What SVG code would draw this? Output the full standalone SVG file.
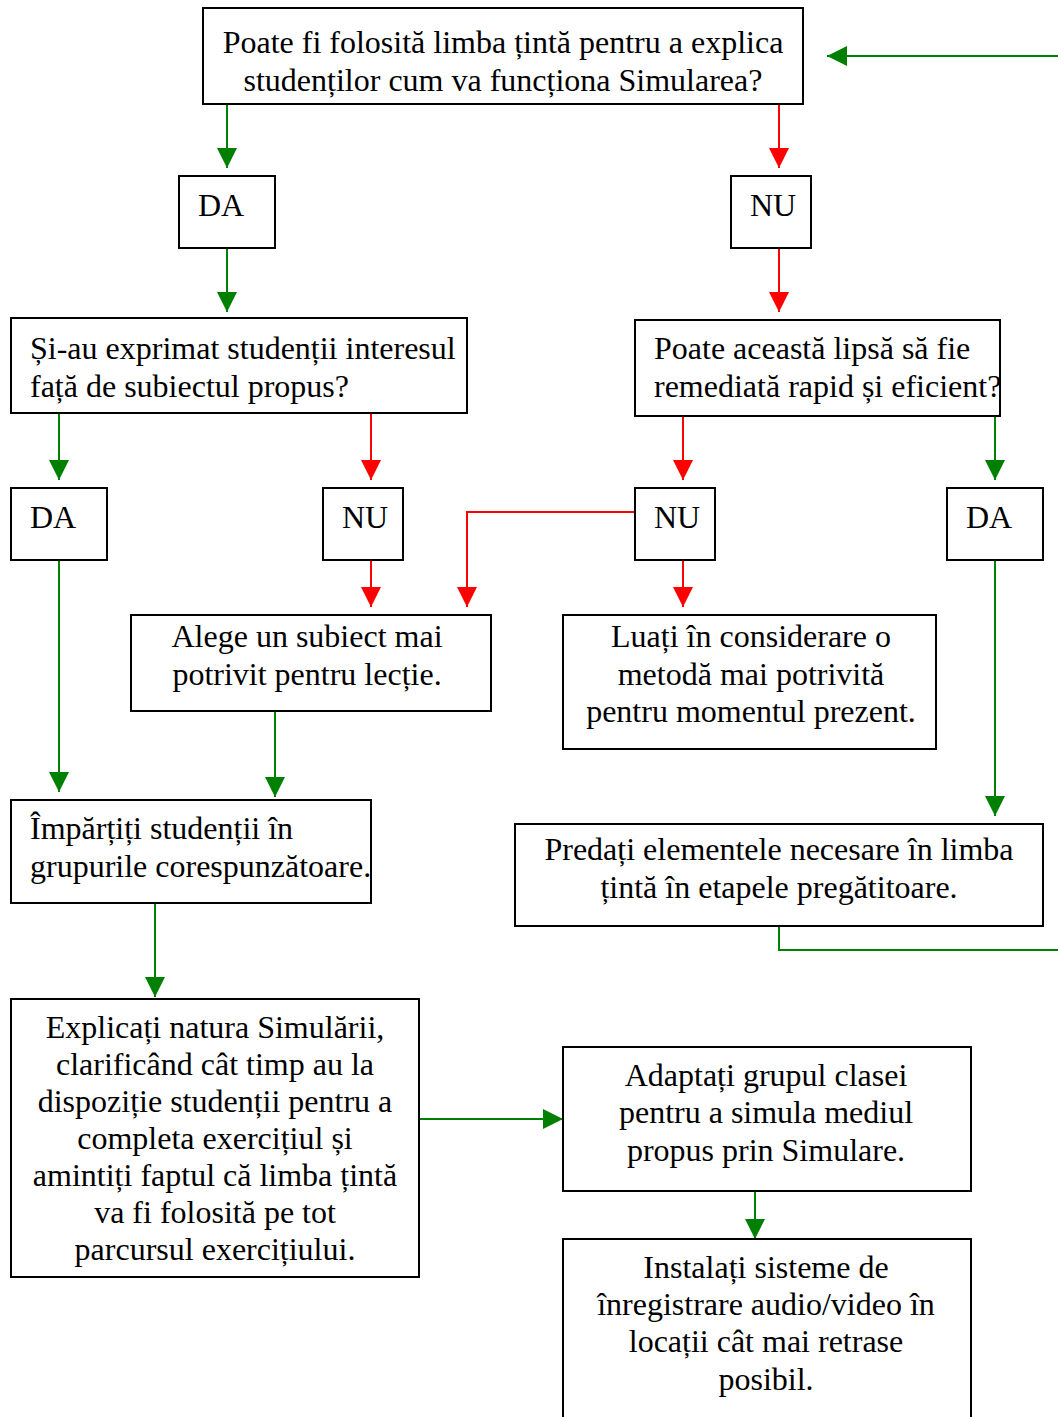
<svg xmlns="http://www.w3.org/2000/svg" width="1058" height="1417" viewBox="0 0 1058 1417">
<style>
.box{fill:#fff;stroke:#000;stroke-width:2}
text{font-family:'Liberation Serif','Times New Roman',serif;font-size:32px;fill:#000}
.c{text-anchor:middle}
.g{stroke:#008000;stroke-width:2;fill:none}
.r{stroke:#ff0000;stroke-width:2;fill:none}
</style>
<defs>
<marker id="ag" markerWidth="20" markerHeight="20" refX="20" refY="10" orient="auto" markerUnits="userSpaceOnUse"><path d="M0,0 L20,10 L0,20 Z" fill="#008000"/></marker>
<marker id="ar" markerWidth="20" markerHeight="20" refX="20" refY="10" orient="auto" markerUnits="userSpaceOnUse"><path d="M0,0 L20,10 L0,20 Z" fill="#ff0000"/></marker>
</defs>
<g id="connectors">
<path class="g" d="M227,104 V168" marker-end="url(#ag)"/>
<path class="g" d="M227,248 V312" marker-end="url(#ag)"/>
<path class="r" d="M779,104 V168" marker-end="url(#ar)"/>
<path class="r" d="M779,248 V312" marker-end="url(#ar)"/>
<path class="g" d="M59,413 V480" marker-end="url(#ag)"/>
<path class="r" d="M371,413 V480" marker-end="url(#ar)"/>
<path class="r" d="M683,416 V480" marker-end="url(#ar)"/>
<path class="g" d="M995,416 V480" marker-end="url(#ag)"/>
<path class="r" d="M635,512 H467 V607" marker-end="url(#ar)"/>
<path class="r" d="M371,560 V607" marker-end="url(#ar)"/>
<path class="r" d="M683,560 V607" marker-end="url(#ar)"/>
<path class="g" d="M59,560 V792" marker-end="url(#ag)"/>
<path class="g" d="M275,711 V797" marker-end="url(#ag)"/>
<path class="g" d="M995,560 V816" marker-end="url(#ag)"/>
<path class="g" d="M779,926 V950 H1058"/>
<path class="g" d="M1058,56 H827" marker-end="url(#ag)"/>
<path class="g" d="M155,903 V997" marker-end="url(#ag)"/>
<path class="g" d="M419,1119 H563" marker-end="url(#ag)"/>
<path class="g" d="M755,1191 V1239" marker-end="url(#ag)"/>
</g>
<g font-family="Liberation Serif, Times New Roman, serif" font-size="32">
<g id="q1"><rect class="box" x="203" y="8" width="600" height="96"/>
<text class="c" x="503" y="53">Poate fi folosită limba țintă pentru a explica</text>
<text class="c" x="503" y="91">studenților cum va funcționa Simularea?</text></g>
<g id="da1"><rect class="box" x="179" y="176" width="96" height="72"/><text x="198" y="216">DA</text></g>
<g id="nu1"><rect class="box" x="731" y="176" width="80" height="72"/><text x="750" y="216">NU</text></g>
<g id="q2"><rect class="box" x="11" y="318" width="456" height="95"/>
<text x="30" y="359">Și-au exprimat studenții interesul</text>
<text x="30" y="397">față de subiectul propus?</text></g>
<g id="q3"><rect class="box" x="635" y="320" width="365" height="96"/>
<text x="654" y="359">Poate această lipsă să fie</text>
<text x="654" y="397">remediată rapid și eficient?</text></g>
<g id="da2"><rect class="box" x="11" y="488" width="96" height="72"/><text x="30" y="528">DA</text></g>
<g id="nu2"><rect class="box" x="323" y="488" width="80" height="72"/><text x="342" y="528">NU</text></g>
<g id="nu3"><rect class="box" x="635" y="488" width="80" height="72"/><text x="654" y="528">NU</text></g>
<g id="da3"><rect class="box" x="947" y="488" width="96" height="72"/><text x="966" y="528">DA</text></g>
<g id="alege"><rect class="box" x="131" y="615" width="360" height="96"/>
<text class="c" x="307" y="647">Alege un subiect mai</text>
<text class="c" x="307" y="685">potrivit pentru lecție.</text></g>
<g id="luati"><rect class="box" x="563" y="615" width="373" height="134"/>
<text class="c" x="751" y="647">Luați în considerare o</text>
<text class="c" x="751" y="685">metodă mai potrivită</text>
<text class="c" x="751" y="722">pentru momentul prezent.</text></g>
<g id="impartiti"><rect class="box" x="11" y="800" width="360" height="103"/>
<text x="30" y="839">Împărțiți studenții în</text>
<text x="30" y="877">grupurile corespunzătoare.</text></g>
<g id="predati"><rect class="box" x="515" y="824" width="528" height="102"/>
<text class="c" x="779" y="860">Predați elementele necesare în limba</text>
<text class="c" x="779" y="898">țintă în etapele pregătitoare.</text></g>
<g id="explicati"><rect class="box" x="11" y="999" width="408" height="278"/>
<text class="c" x="215" y="1038">Explicați natura Simulării,</text>
<text class="c" x="215" y="1075">clarificând cât timp au la</text>
<text class="c" x="215" y="1112">dispoziție studenții pentru a</text>
<text class="c" x="215" y="1149">completa exercițiul și</text>
<text class="c" x="215" y="1186">amintiți faptul că limba țintă</text>
<text class="c" x="215" y="1223">va fi folosită pe tot</text>
<text class="c" x="215" y="1260">parcursul exercițiului.</text></g>
<g id="adaptati"><rect class="box" x="563" y="1047" width="408" height="144"/>
<text class="c" x="766" y="1086">Adaptați grupul clasei</text>
<text class="c" x="766" y="1123">pentru a simula mediul</text>
<text class="c" x="766" y="1161">propus prin Simulare.</text></g>
<g id="instalati"><rect class="box" x="563" y="1239" width="408" height="200"/>
<text class="c" x="766" y="1278">Instalați sisteme de</text>
<text class="c" x="766" y="1315">înregistrare audio/video în</text>
<text class="c" x="766" y="1352">locații cât mai retrase</text>
<text class="c" x="766" y="1390">posibil.</text></g>
</g>
</svg>
